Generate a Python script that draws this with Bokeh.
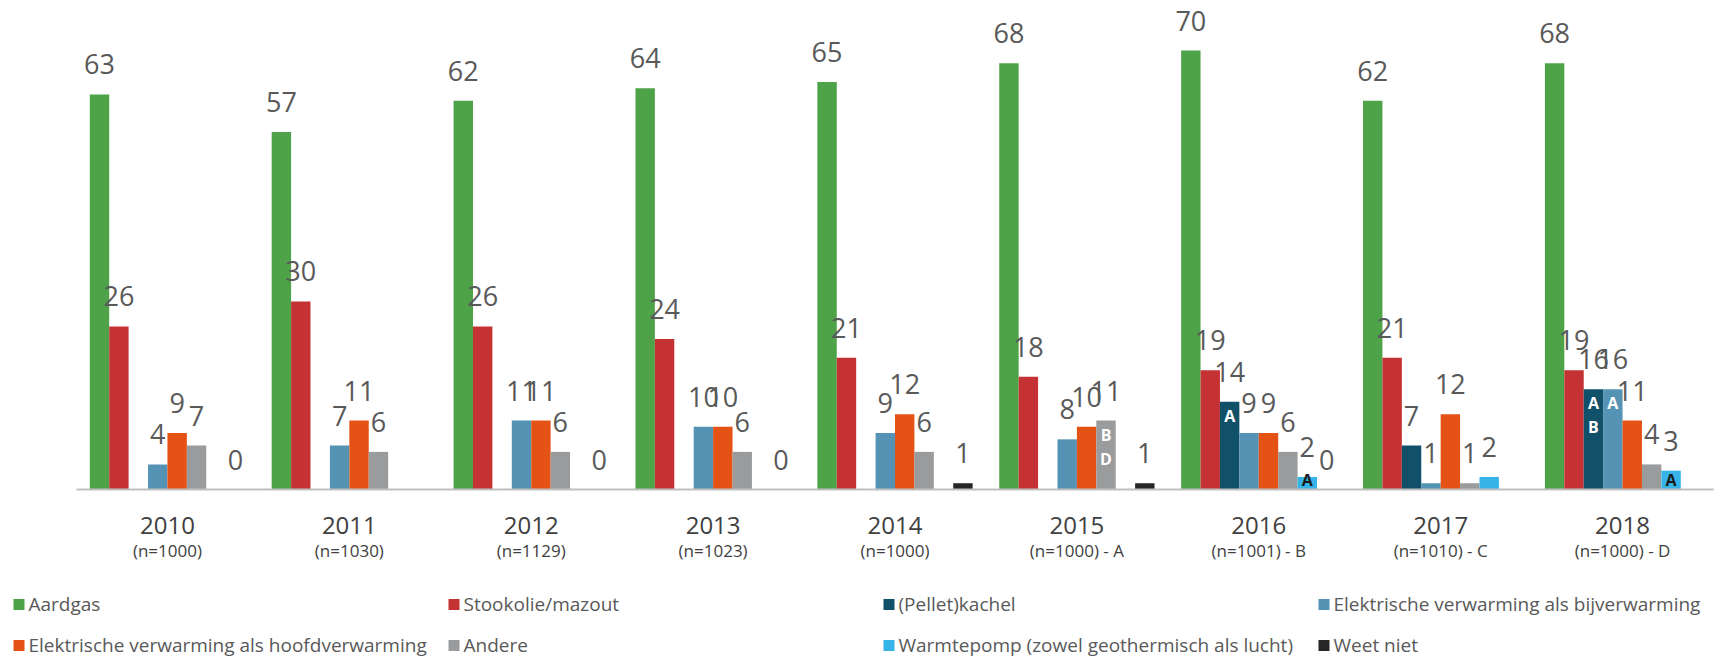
from bokeh.plotting import figure
from bokeh.models import ColumnDataSource, Range1d
from bokeh.transform import dodge
from bokeh.core.properties import value
from bokeh.embed import file_html
from bokeh.resources import INLINE

# ---------------- data ----------------
years = ["2010", "2011", "2012", "2013", "2014", "2015", "2016", "2017", "2018"]
sample_sizes = ["(n=1000)", "(n=1030)", "(n=1129)", "(n=1023)", "(n=1000)",
                "(n=1000) - A", "(n=1001) - B", "(n=1010) - C", "(n=1000) - D"]
series = ["Aardgas", "Stookolie/mazout", "(Pellet)kachel",
          "Elektrische verwarming als bijverwarming",
          "Elektrische verwarming als hoofdverwarming", "Andere",
          "Warmtepomp (zowel geothermisch als lucht)", "Weet niet"]

aardgas = [63, 57, 62, 64, 65, 68, 70, 62, 68]
stookolie = [26, 30, 26, 24, 21, 18, 19, 21, 19]
pelletkachel = [None, None, None, None, None, None, 14, 7, 16]
elektr_bij = [4, 7, 11, 10, 9, 8, 9, 1, 16]
elektr_hoofd = [9, 11, 11, 10, 12, 10, 9, 12, 11]
andere = [7, 6, 6, 6, 6, 11, 6, 1, 4]
warmtepomp = [None, None, None, None, None, None, 2, 2, 3]
weet_niet = [0, None, 0, 0, 1, 1, 0, None, None]

values = [aardgas, stookolie, pelletkachel, elektr_bij, elektr_hoofd,
          andere, warmtepomp, weet_niet]

# significance letters drawn inside bars
sig_year = ["2015", "2016", "2016", "2018", "2018", "2018"]
sig_series = [5, 2, 6, 2, 3, 6]
sig_letters = ["BD", "A", "A", "AB", "A", "A"]

# ---------------- style / geometry ----------------
colors = ["#4EA247", "#C53234", "#115069", "#5593B5", "#E55215", "#9A9B9D",
          "#36B3E8", "#262626"]
letter_colors = ["#FFFFFF", "#FFFFFF", "#FFFFFF", "#FFFFFF", "#FFFFFF",
                 "#FFFFFF", "#1A1A1A", "#FFFFFF"]
FONT = "Open Sans"
LABEL_COLOR = "#595959"
AXIS_TEXT = "#404040"

W, H = 1727, 657
AX_LEFT, AX_RIGHT = 76, 1713        # pixel extent of the category axis
BASE = 489                          # pixel row of the value 0
CAT_W = (AX_RIGHT - AX_LEFT) / len(years)
PPU = 6.27                          # pixels per percent
SLOT = 1.0 / 9.37                   # bar slot width in category units


def px_x(px):
    return (px - AX_LEFT) / CAT_W


def px_y(py):
    return (BASE - py) / PPU


p = figure(width=W, height=H,
           x_range=Range1d(px_x(0), px_x(W)), y_range=Range1d(px_y(H), px_y(0)),
           min_border=0, x_axis_location=None, y_axis_location=None,
           toolbar_location=None, output_backend="svg",
           outline_line_color=None, background_fill_color="white",
           border_fill_color="white")
p.grid.visible = False

cat_pos = [i + 0.5 for i in range(len(years))]

# bars and value labels
for i, vals in enumerate(values):
    pos = [c for c, v in zip(cat_pos, vals) if v is not None]
    vs = [v for v in vals if v is not None]
    src = ColumnDataSource(dict(pos=pos, value=vs,
                                lab_y=[v + 30 / PPU for v in vs],
                                label=[str(v) for v in vs]))
    off = (i - 3.5) * SLOT
    p.vbar(x=dodge("pos", off), top="value", bottom=0, width=SLOT, source=src,
           fill_color=colors[i], line_color=None)
    p.text(x=dodge("pos", off), y="lab_y", text="label", source=src,
           text_font=value(FONT), text_font_size="27px", text_color=LABEL_COLOR,
           text_align="center", text_baseline="middle")

# category axis line
p.segment(x0=[0], x1=[len(years)], y0=[0], y1=[0], line_color="#BFBFBF",
          line_width=2)

# category labels
cat_src = ColumnDataSource(dict(pos=cat_pos, year=years, n=sample_sizes,
                                y1=[px_y(525)] * len(years),
                                y2=[px_y(550)] * len(years)))
p.text(x="pos", y="y1", text="year", source=cat_src, text_font=value(FONT),
       text_font_size="24px", text_color=AXIS_TEXT, text_align="center",
       text_baseline="middle")
p.text(x="pos", y="y2", text="n", source=cat_src, text_font=value(FONT),
       text_font_size="17px", text_color=AXIS_TEXT, text_align="center",
       text_baseline="middle")

# significance letters
for yr, si, letters in zip(sig_year, sig_series, sig_letters):
    v = values[si][years.index(yr)]
    yc = max(v - 14 / PPU, 10 / PPU)
    off = (si - 3.5) * SLOT
    ys = [yc - 24 * k / PPU for k in range(len(letters))]
    src = ColumnDataSource(dict(pos=[years.index(yr) + 0.5] * len(letters),
                                y=ys, label=list(letters)))
    p.text(x=dodge("pos", off), y="y", text="label", source=src,
           text_font=value(FONT), text_font_size="16px",
           text_font_style="bold", text_color=letter_colors[si],
           text_align="center", text_baseline="middle")

# legend (4 equal columns, 2 rows)
col_left = [13, 448, 883, 1318]
row_mid = [604, 645]
for i, name in enumerate(series):
    lx = col_left[i % 4]
    ry = row_mid[i // 4]
    p.scatter(x=[px_x(lx + 5.5)], y=[px_y(ry)], marker="square", size=11,
              fill_color=colors[i], line_color=None)
    p.text(x=[px_x(lx + 15)], y=[px_y(ry - 1)], text=[name],
           text_font=value(FONT), text_font_size="19px",
           text_color=LABEL_COLOR, text_baseline="middle", text_align="left")

open("out.html", "w").write(file_html(p, INLINE))
